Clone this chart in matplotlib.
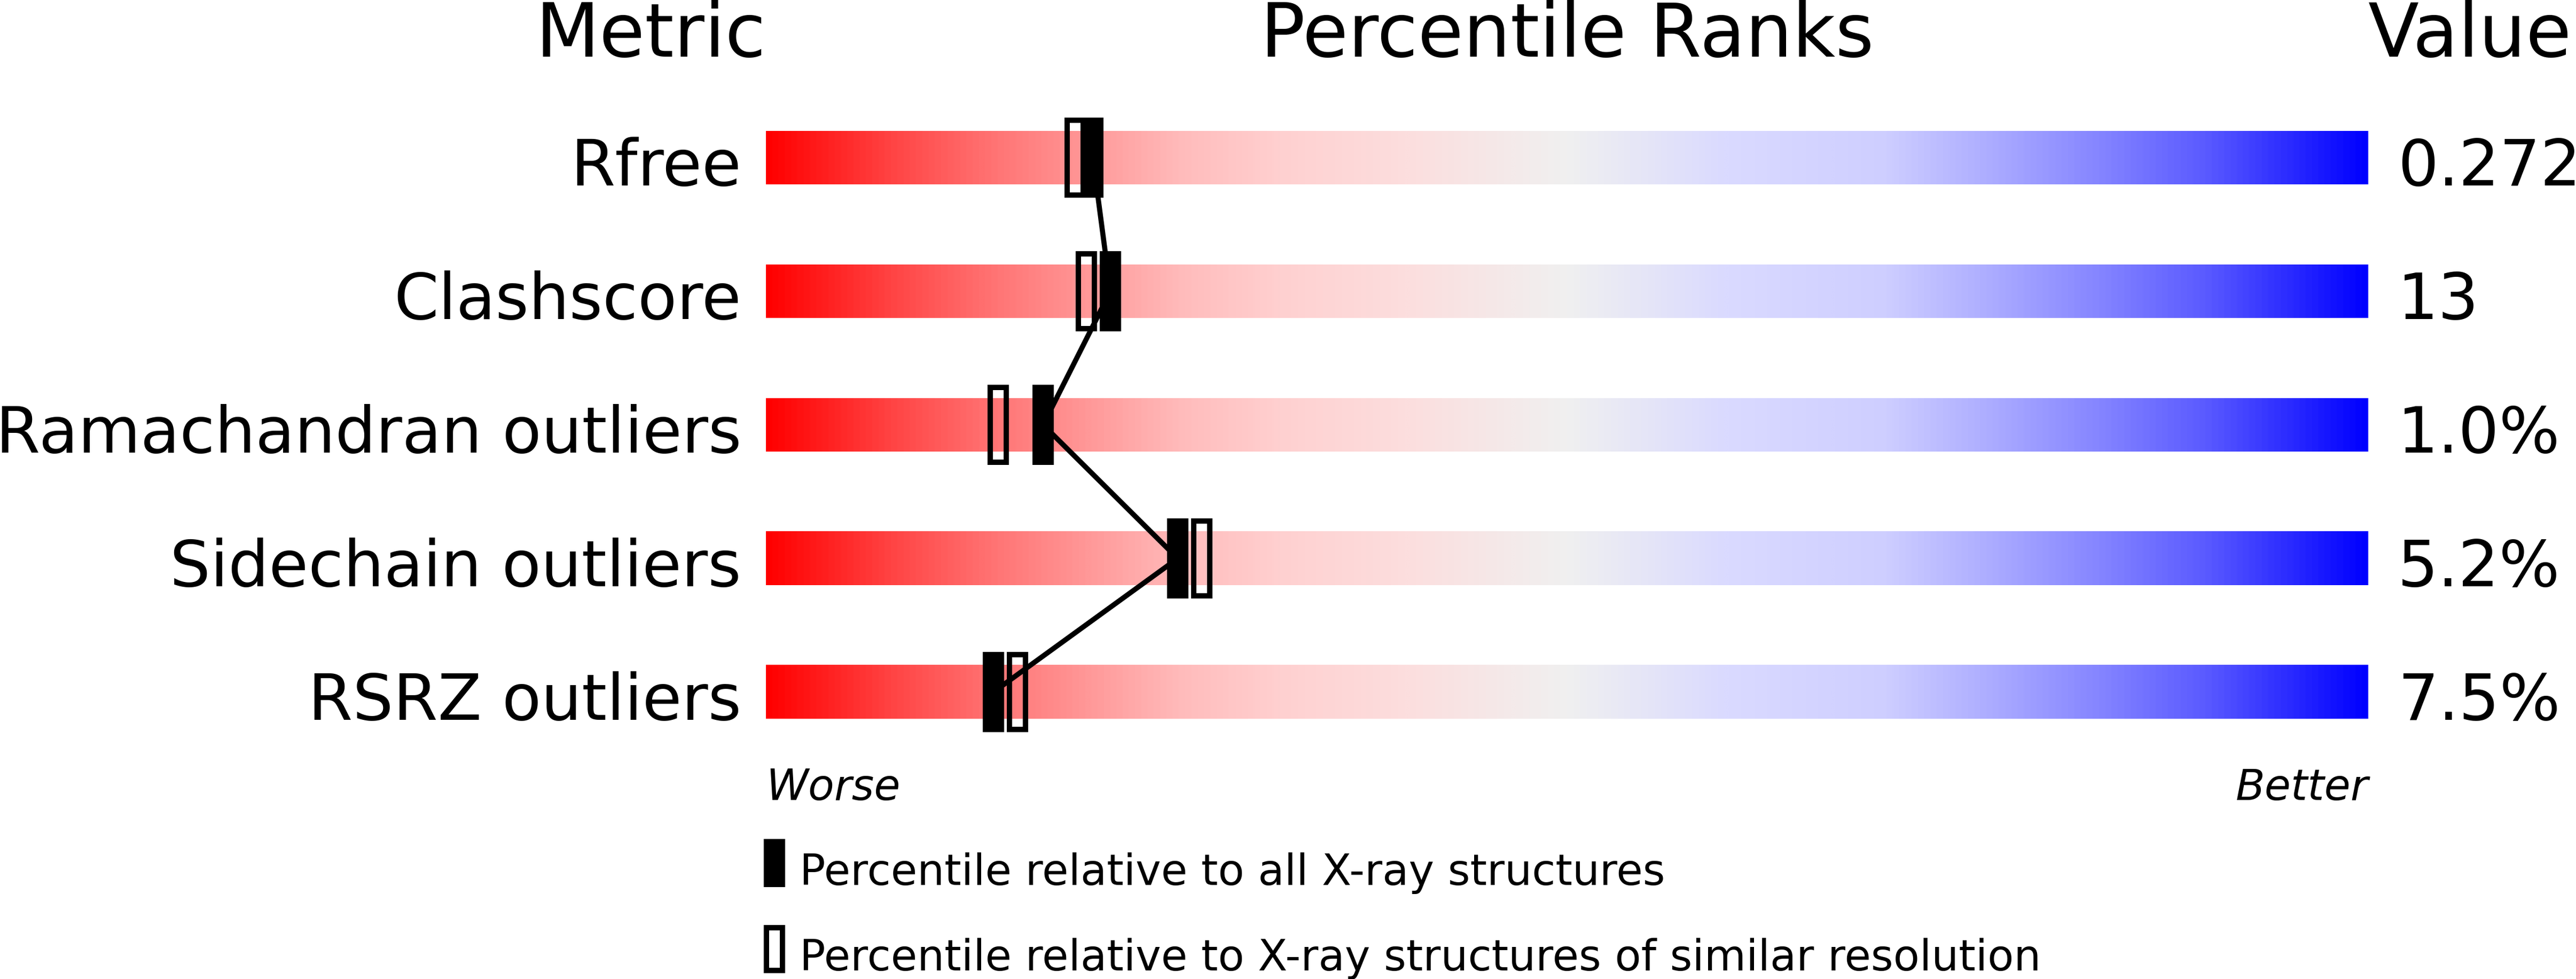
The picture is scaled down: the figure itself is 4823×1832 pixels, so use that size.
import matplotlib
matplotlib.use('Agg')
import matplotlib.pyplot as plt
import numpy as np
from matplotlib.colors import LinearSegmentedColormap
from matplotlib.patches import Rectangle

# Metrics, values and percentile ranks (0-100, read from the slider)
METRICS = ['Rfree', 'Clashscore', 'Ramachandran outliers', 'Sidechain outliers', 'RSRZ outliers']
VALUES = ['0.272', '13', '1.0%', '5.2%', '7.5%']
PCT_ALL = [20.4, 21.5, 17.3, 25.7, 14.2]
PCT_SIMILAR = [19.3, 20.0, 14.5, 27.2, 15.7]

LEGEND_ALL = 'Percentile relative to all X-ray structures'
LEGEND_SIMILAR = 'Percentile relative to X-ray structures of similar resolution'

# Slider gradient, worse (red) to better (blue)
GRADIENT = [
    (0.00, (255, 0, 0)),
    (0.08, (255, 70, 70)),
    (0.14, (255, 115, 115)),
    (0.20, (255, 152, 152)),
    (0.26, (255, 188, 188)),
    (0.32, (255, 208, 208)),
    (0.40, (252, 222, 222)),
    (0.50, (240, 240, 240)),
    (0.60, (218, 218, 255)),
    (0.70, (206, 206, 255)),
    (0.76, (175, 175, 255)),
    (0.83, (135, 135, 255)),
    (0.90, (90, 90, 255)),
    (1.00, (0, 0, 255)),
]

# Figure geometry in pixels (dpi 100)
W, H, DPI = 4823, 1833, 100
BAR_LEFT, BAR_WIDTH = 1434, 3000   # px
ROW0, ROW_STEP = 296, 250          # px, centre of first bar and row spacing
PX = BAR_WIDTH / 100.0             # px per percentile unit


def px_to_x(p):
    return (p - BAR_LEFT) / PX


def px_to_y(p):
    return (p - ROW0) / ROW_STEP


cmap = LinearSegmentedColormap.from_list(
    'slider', [(pos, tuple(c / 255.0 for c in rgb)) for pos, rgb in GRADIENT])

fig = plt.figure(figsize=(W / DPI, H / DPI), dpi=DPI)
ax = fig.add_axes([0, 0, 1, 1])
ax.set_xlim(px_to_x(0), px_to_x(W))
ax.set_ylim(px_to_y(H), px_to_y(0))
ax.axis('off')

bar_h = 100 / ROW_STEP
mark_w = 40 / PX
mark_h = 150 / ROW_STEP
edge_px = 10
edge_pt = edge_px * 72.0 / DPI
ramp = np.linspace(0, 1, 1024).reshape(1, -1)

label_size = 86.3
rows = np.arange(len(METRICS))
for i in rows:
    ax.imshow(ramp, cmap=cmap, aspect='auto', interpolation='bilinear',
              extent=[0, 100, i + bar_h / 2, i - bar_h / 2], zorder=1)
    ax.text(px_to_x(1388), i + 0.205, METRICS[i], ha='right', va='baseline', fontsize=label_size)
    ax.text(px_to_x(4489), i + 0.205, VALUES[i], ha='left', va='baseline', fontsize=label_size)

# Line joining the "all structures" markers
ax.plot(PCT_ALL, rows, color='black', linewidth=6.9, zorder=2, solid_capstyle='butt')

ew = edge_px / PX
eh = edge_px / ROW_STEP
for i in rows:
    # Similar resolution: open marker
    ax.add_patch(Rectangle((PCT_SIMILAR[i] - mark_w / 2 + ew / 2, i - mark_h / 2 + eh / 2),
                           mark_w - ew, mark_h - eh, facecolor='none', edgecolor='black',
                           linewidth=edge_pt, zorder=3, joinstyle='miter'))
    # All structures: filled marker
    ax.add_patch(Rectangle((PCT_ALL[i] - mark_w / 2, i - mark_h / 2), mark_w, mark_h,
                           facecolor='black', edgecolor='none', zorder=4))

# Headers
header_size = 100
header_y = px_to_y(106)
ax.text(0, header_y, 'Metric', ha='right', va='baseline', fontsize=header_size)
ax.text(50, header_y, 'Percentile Ranks', ha='center', va='baseline', fontsize=header_size)
ax.text(100, header_y, 'Value', ha='left', va='baseline', fontsize=header_size)

# Worse / Better
small_size = 57.5
ax.text(0, px_to_y(1497), 'Worse', ha='left', va='baseline', fontsize=small_size, style='italic')
ax.text(100, px_to_y(1497), 'Better', ha='right', va='baseline', fontsize=small_size, style='italic')

# Legend
legend_size = 58
leg_w = 40 / PX
leg_h = 90 / ROW_STEP
leg_x = px_to_x(1430)
ax.add_patch(Rectangle((leg_x, px_to_y(1571)), leg_w, leg_h, facecolor='black', edgecolor='none'))
ax.add_patch(Rectangle((leg_x + ew / 2, px_to_y(1732) + eh / 2), leg_w - ew, leg_h - eh,
                       facecolor='none', edgecolor='black', linewidth=edge_pt, joinstyle='miter'))
ax.text(px_to_x(1497), px_to_y(1656), LEGEND_ALL, ha='left', va='baseline', fontsize=legend_size)
ax.text(px_to_x(1497), px_to_y(1816), LEGEND_SIMILAR, ha='left', va='baseline', fontsize=legend_size)

fig.savefig('out.png', dpi=DPI, facecolor='white')
plt.close(fig)
